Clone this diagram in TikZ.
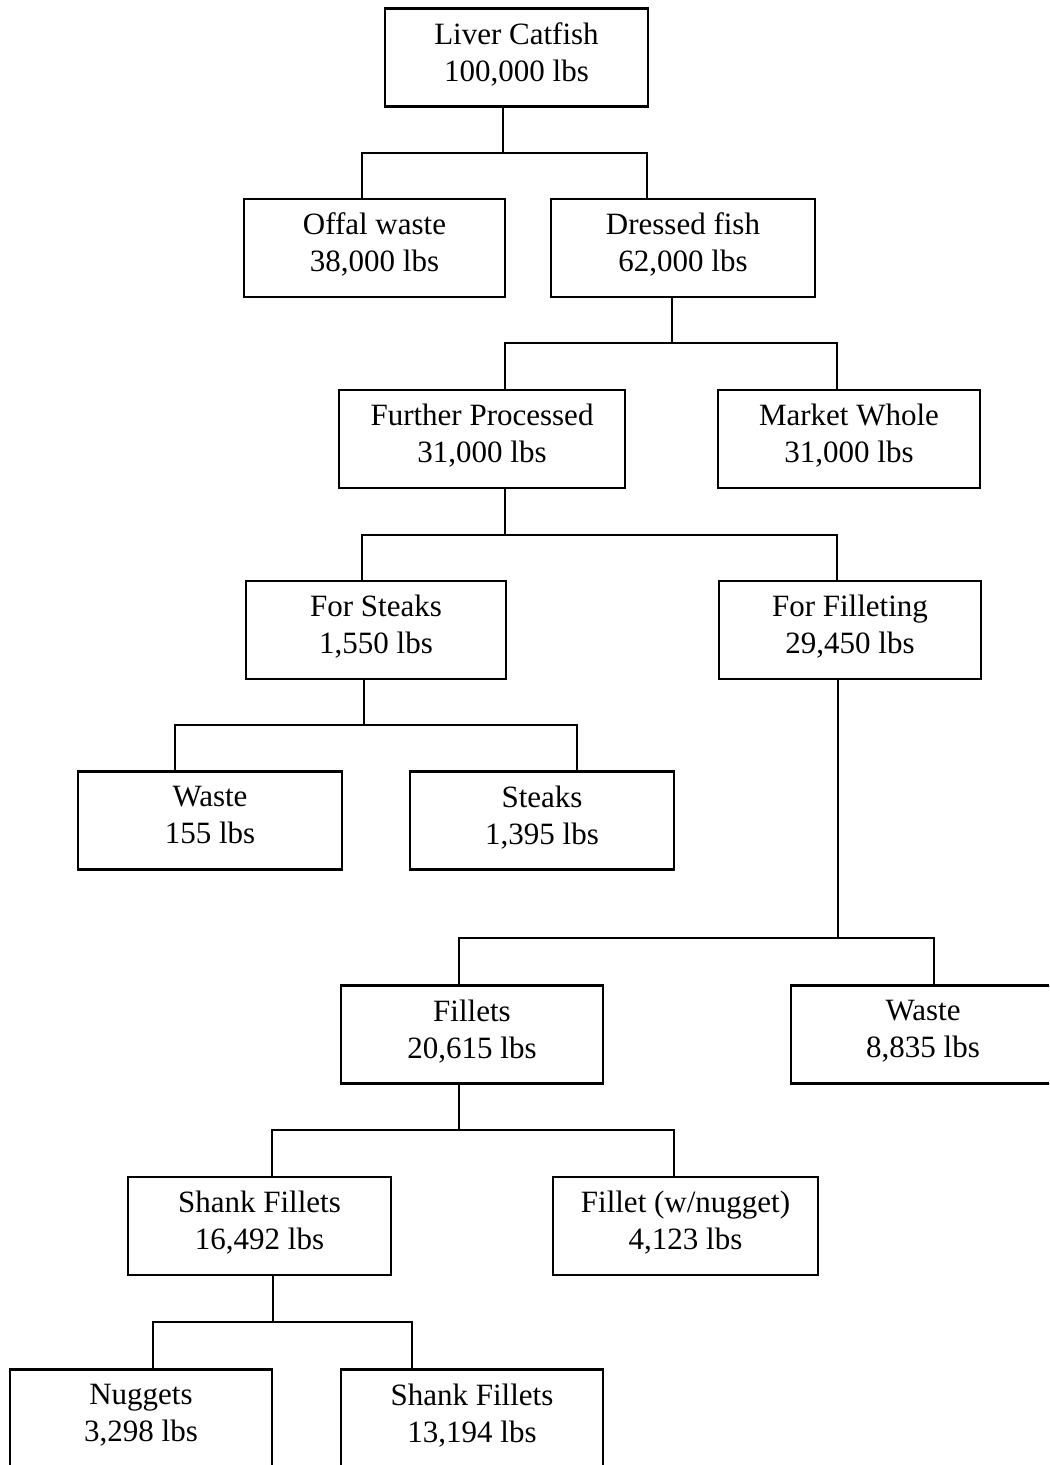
\documentclass[tikz,border=0pt]{standalone}
\usepackage{fontspec}
\setmainfont{Liberation Serif}
\begin{document}
\begin{tikzpicture}[x=0.5pt,y=-0.5pt,
  box/.style={draw, line width=1.4pt, align=center, inner sep=0pt,
    font=\fontsize{15.5}{18.5}\selectfont, minimum height=49pt,
    execute at begin node={\strut}, execute at end node={\rule[-3.4pt]{0pt}{1pt}}},
  wd/.style={minimum width=#1*0.5pt},
  conn/.style={line width=1.2pt}]
\useasboundingbox (0,0) rectangle (1049,1465);
\clip (0,0) rectangle (1049,1465);
% nodes
\node[box,wd=263] (lc) at (516.5,57.5) {Liver Catfish\\100,000 lbs};
\node[box,wd=261] (offal) at (374.5,248) {Offal waste\\38,000 lbs};
\node[box,wd=264] (dressed) at (683,248) {Dressed fish\\62,000 lbs};
\node[box,wd=286] (further) at (482,439) {Further Processed\\31,000 lbs};
\node[box,wd=262] (market) at (849,439) {Market Whole\\31,000 lbs};
\node[box,wd=260] (forsteaks) at (376,630) {For Steaks\\1,550 lbs};
\node[box,wd=262] (forfillet) at (850,630) {For Filleting\\29,450 lbs};
\node[box,wd=264] (waste1) at (210,820.5) {Waste\\155 lbs};
\node[box,wd=264] (steaks) at (542,820.5) {Steaks\\1,395 lbs};
\node[box,wd=262] (fillets) at (472,1034.5) {Fillets\\20,615 lbs};
\node[box,wd=264] (waste2) at (923,1034.5) {Waste\\8,835 lbs};
\node[box,wd=263] (shank) at (259.5,1226) {Shank Fillets\\16,492 lbs};
\node[box,wd=265] (filletw) at (685.5,1226) {Fillet (w/nugget)\\4,123 lbs};
\node[box,wd=262] (nuggets) at (141,1418.5) {Nuggets\\3,298 lbs};
\node[box,wd=262] (shank2) at (472,1418.5) {Shank Fillets\\13,194 lbs};
% connectors
\draw[conn] (503,0 |- lc.south) -- (503,153) -| (362,0 |- offal.north);
\draw[conn] (503,153) -| (647,0 |- dressed.north);
\draw[conn] (672,0 |- dressed.south) -- (672,343) -| (505,0 |- further.north);
\draw[conn] (672,343) -| (837,0 |- market.north);
\draw[conn] (505,0 |- further.south) -- (505,535) -| (362,0 |- forsteaks.north);
\draw[conn] (505,535) -| (837,0 |- forfillet.north);
\draw[conn] (364,0 |- forsteaks.south) -- (364,725) -| (175,0 |- waste1.north);
\draw[conn] (364,725) -| (577,0 |- steaks.north);
\draw[conn] (838,0 |- forfillet.south) -- (838,938) -| (459,0 |- fillets.north);
\draw[conn] (838,938) -| (934,0 |- waste2.north);
\draw[conn] (459,0 |- fillets.south) -- (459,1130) -| (272,0 |- shank.north);
\draw[conn] (459,1130) -| (674,0 |- filletw.north);
\draw[conn] (273,0 |- shank.south) -- (273,1322) -| (153,0 |- nuggets.north);
\draw[conn] (273,1322) -| (412,0 |- shank2.north);
\end{tikzpicture}
\end{document}
